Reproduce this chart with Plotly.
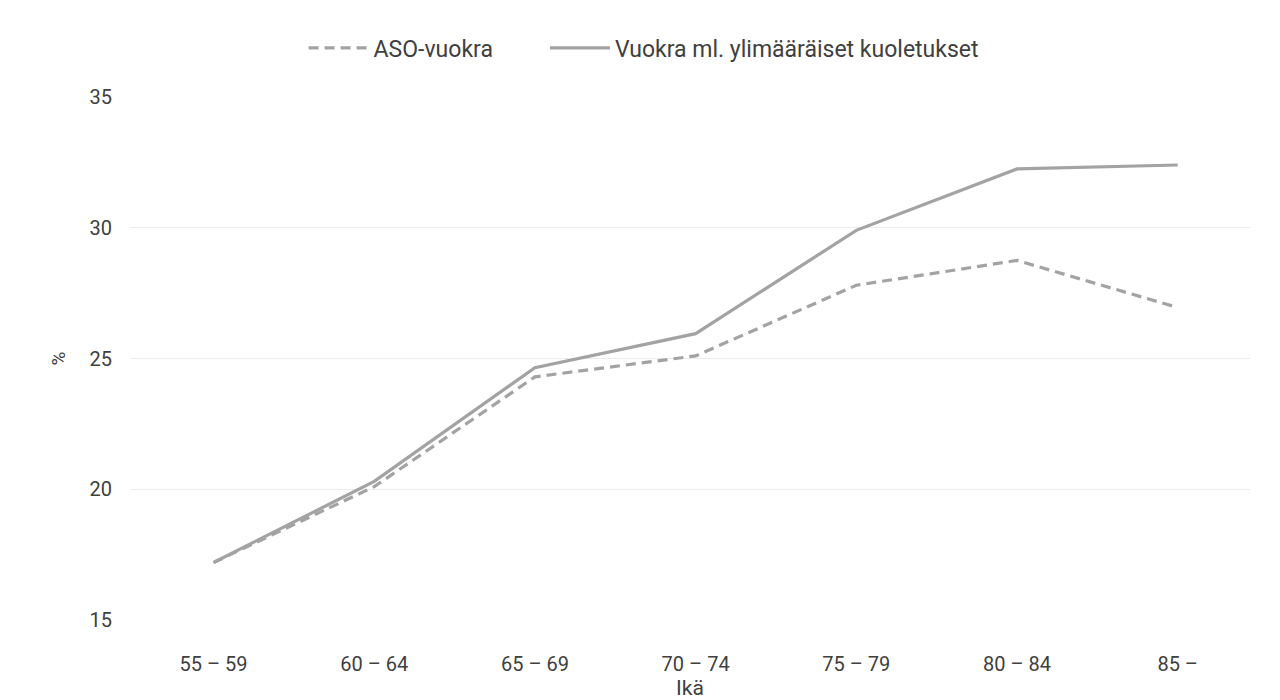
import plotly.graph_objects as go

categories = ["55 – 59", "60 – 64", "65 – 69", "70 – 74", "75 – 79", "80 – 84", "85 –"]
aso_vuokra = [17.2, 20.1, 24.3, 25.1, 27.8, 28.75, 26.95]
vuokra_kuoletukset = [17.2, 20.3, 24.65, 25.95, 29.9, 32.25, 32.4]
y_ticks = [15, 20, 25, 30, 35]

FONT = "Roboto, Liberation Sans, sans-serif"
LINE_COLOR = "#a3a3a3"
TEXT_COLOR = "#404040"

fig = go.Figure()
fig.add_trace(go.Scatter(
    x=categories, y=aso_vuokra, name="ASO-vuokra", mode="lines",
    line=dict(color=LINE_COLOR, width=3.2, dash="10px,6px"),
    legend="legend",
))
fig.add_trace(go.Scatter(
    x=categories, y=vuokra_kuoletukset, name="Vuokra ml. ylimääräiset kuoletukset",
    mode="lines", line=dict(color=LINE_COLOR, width=3.2),
    legend="legend2",
))

legend_common = dict(orientation="h", xanchor="left", y=1.094, yanchor="middle",
                     font=dict(size=23, color=TEXT_COLOR), itemwidth=60,
                     bgcolor="rgba(0,0,0,0)")

fig.update_layout(
    width=1264, height=692,
    margin=dict(l=122, r=22, t=89, b=80, autoexpand=False),
    paper_bgcolor="white", plot_bgcolor="white",
    font=dict(family=FONT, size=20, color=TEXT_COLOR),
    showlegend=True,
    legend=dict(x=0.155, **legend_common),
    legend2=dict(x=0.3705, **legend_common),
    xaxis=dict(
        type="category", range=[-0.52, 6.45], automargin=False,
        showgrid=False, zeroline=False, showline=False,
        ticks="", ticklabelstandoff=30,
        tickfont=dict(size=20, color=TEXT_COLOR),
        title=dict(text="Ikä", font=dict(size=21, color=TEXT_COLOR), standoff=4),
    ),
    yaxis=dict(
        range=[15, 35], tickvals=y_ticks, automargin=False,
        showgrid=True, gridcolor="#ececec", gridwidth=1,
        zeroline=False, showline=False, ticks="", ticklabelstandoff=17,
        tickfont=dict(size=20, color=TEXT_COLOR),
        title=dict(text="%", font=dict(size=19, color=TEXT_COLOR), standoff=18),
    ),
)

fig.write_html("out.html")
